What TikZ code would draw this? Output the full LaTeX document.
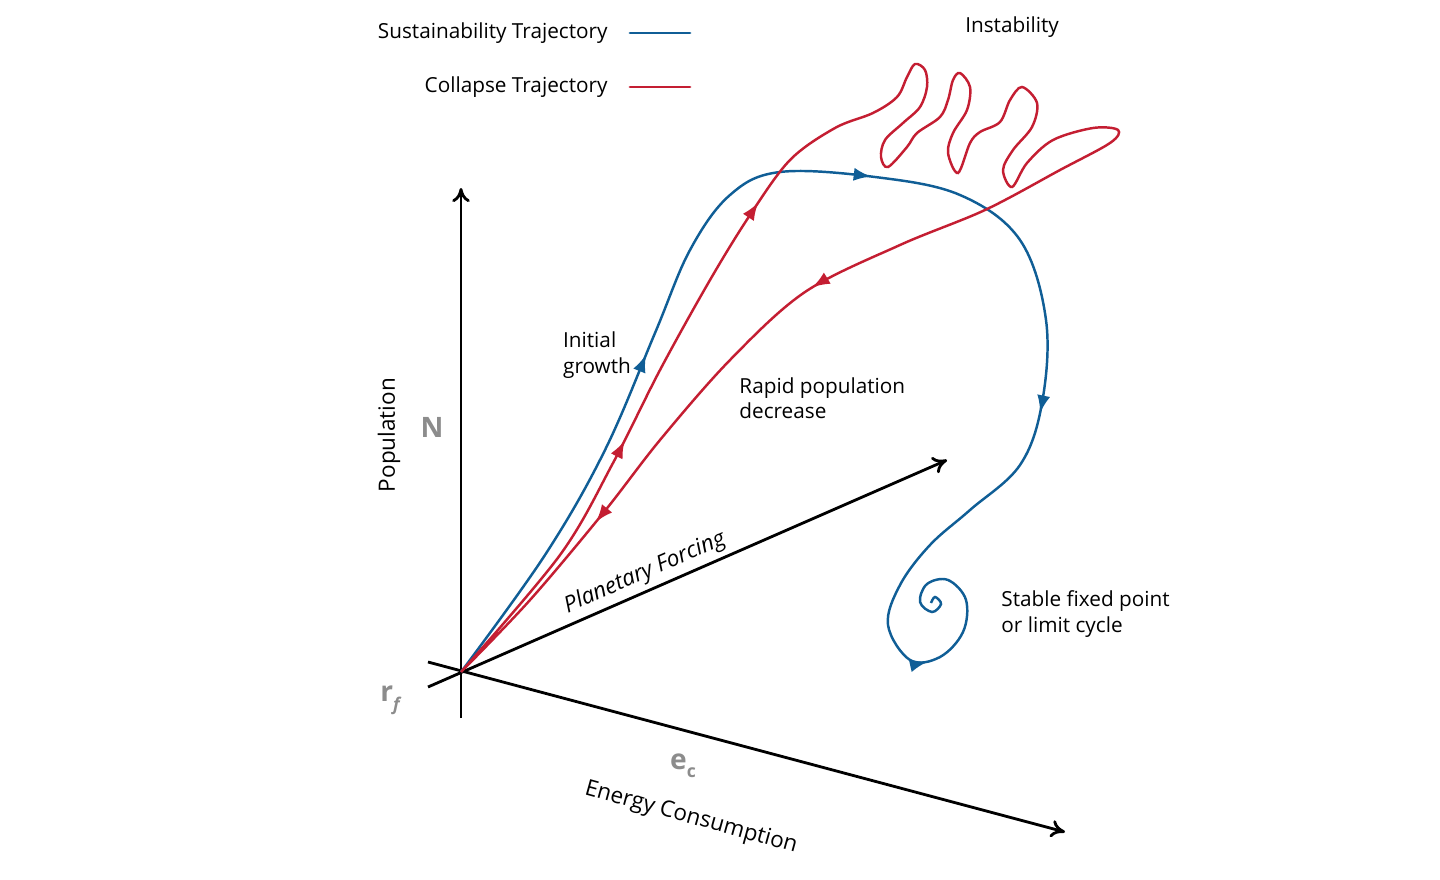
\documentclass[tikz,border=0pt]{standalone}
\usepackage{fontspec}
\setmainfont{Open Sans}
\usetikzlibrary{arrows.meta,decorations.markings}
\definecolor{sustblue}{RGB}{16,94,150}
\definecolor{collred}{RGB}{196,30,50}
\definecolor{axgray}{RGB}{140,140,140}
\begin{document}
\begin{tikzpicture}[x=0.01cm,y=-0.01cm,
                    font=\fontsize{5.9}{7.2}\selectfont,
                    axis/.style={thick,-{To[length=4pt,width=5pt]}},
                    blueline/.style={sustblue,line width=0.7pt},
                    redline/.style={collred,line width=0.7pt},
                    marks/.style={postaction={decorate},decoration={markings,#1}}]
  \useasboundingbox (0,0) rectangle (1440,879);
  % axes
  \coordinate (O) at (461,672);
  \draw[axis] (461,718) -- (461,188);
  \draw[axis] (428,662) -- (1065,832);
  \draw[axis] (428,687) -- (947,460);
  \node[text=axgray,font=\fontsize{8}{9}\selectfont\bfseries] (nlab) at (432,427) {N};
  \node[rotate=90,font=\fontsize{6.4}{7.5}\selectfont] (poplab) at (389,435) {Population};
  \node[text=axgray,font=\fontsize{8}{9}\selectfont\bfseries] (rlab) at (390,700) {r\raisebox{-0.6ex}{\fontsize{5}{6}\selectfont\itshape f}};
  \node[text=axgray,font=\fontsize{8}{9}\selectfont\bfseries] (elab) at (683,766) {e\raisebox{-0.5ex}{\fontsize{5}{6}\selectfont c}};
  \node[rotate=-15.5,font=\fontsize{6.4}{7.5}\selectfont] (enlab) at (691,818) {Energy Consumption};
  \node[rotate=23.6,font=\fontsize{6.4}{7.5}\selectfont\itshape] (pflab) at (645,573) {Planetary Forcing};
  % legend
  \node[anchor=east] (slab) at (620,33) {Sustainability Trajectory};
  \node[anchor=east] (clab) at (620,87) {Collapse Trajectory};
  \draw[sustblue,thick,line cap=round] (slab.east) ++(10,0) coordinate (s1) -- ++(60,0) coordinate (s2);
  \draw[collred,thick,line cap=round] (clab.east) ++(10,0) coordinate (c1) -- ++(60,0) coordinate (c2);
  % labels
  \node (inst) at (1012,27) {Instability};
  \node[align=left] (grow) at (597,355) {Initial\\growth};
  \node[align=left,anchor=west] (rapid) at (727,398) {Rapid population\\decrease};
  \node[align=left,anchor=west] (stab) at (989,614) {Stable fixed point\\or limit cycle};
  % sustainability trajectory
  \draw[blueline,marks={mark=at position 0.235 with {\arrow{Latex[length=5pt]}},
                        mark=at position 0.445 with {\arrow{Latex[length=5pt]}},
                        mark=at position 0.665 with {\arrow{Latex[length=5pt]}},
                        mark=at position 0.875 with {\arrow{Latex[length=5pt]}}}]
    plot[smooth,tension=0.6] coordinates {(O) (545,555) (605,450) (655,333) (690,250) (730,195) (780,172)
      (875,177) (960,195) (1020,240) (1046,320) (1042,403) (1020,465) (970,510) (930,545)
      (900,585) (888,625) (910,660) (940,657) (963,632) (966,600) (948,580) (927,584)
      (920,602) (932,612) (941,604) (935,597) (931,603)};
  % collapse trajectory
  \draw[redline,marks={mark=at position 0.12 with {\arrow{Latex[length=5pt]}},
                       mark=at position 0.235 with {\arrow{Latex[length=5pt]}},
                       mark=at position 0.78 with {\arrow{Latex[length=5pt]}},
                       mark=at position 0.915 with {\arrow{Latex[length=5pt]}}}]
    plot[smooth,tension=0.55] coordinates {(O) (560,555) (613,463) (660,370) (710,280) (750,215)
      (790,160) (835,128) (873,113) (897,97) (907,77) (915,64) (925,70) (927,87) (920,107)
      (903,123) (885,140) (881,157) (888,167) (907,147) (917,133) (940,117) (948,100)
      (953,80) (960,73) (970,87) (967,110) (953,133) (948,153) (958,173) (970,143)
      (980,132) (1000,122) (1010,100) (1022,87) (1037,103) (1032,127) (1013,150)
      (1003,170) (1012,187) (1027,163) (1053,140) (1093,128) (1118,130) (1110,143)
      (1060,170) (985,210) (900,245) (805,292) (730,360) (660,440) (604,512) (530,600) (O)};
\end{tikzpicture}
\end{document}
